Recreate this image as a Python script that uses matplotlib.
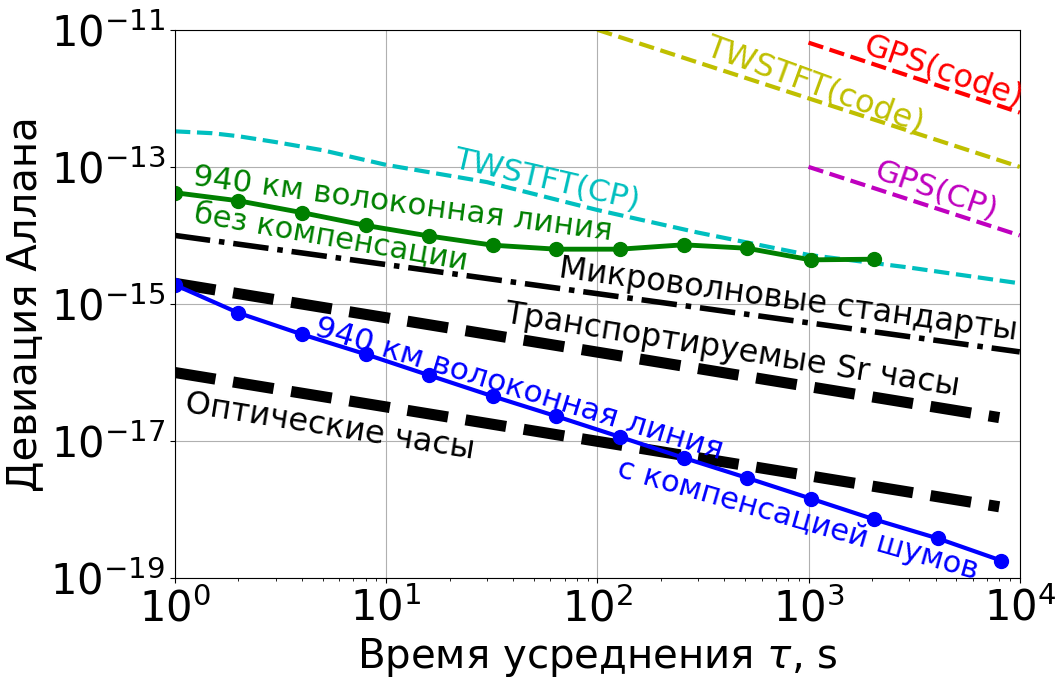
import numpy as np
import matplotlib
matplotlib.use('Agg')
import matplotlib.pyplot as plt
from matplotlib.ticker import NullLocator

# данные (оценка по картинке)
tau_comp = [1, 2, 4, 8, 16, 32, 64, 128, 256, 512, 1024, 2048, 4096, 8192]
adev_comp = [1.9e-15, 7.4e-16, 3.6e-16, 1.85e-16, 9.1e-17, 4.5e-17, 2.3e-17,
             1.15e-17, 5.7e-18, 2.9e-18, 1.45e-18, 7.2e-19, 3.8e-19, 1.8e-19]

tau_free = [1, 2, 4, 8, 16, 32, 64, 128, 256, 512, 1024, 2048]
adev_free = [4.2e-14, 3.2e-14, 2.15e-14, 1.4e-14, 9.8e-15, 7.2e-15,
             6.3e-15, 6.3e-15, 7.3e-15, 6.5e-15, 4.4e-15, 4.5e-15]

tau_twcp = [1, 1.5, 2, 3, 5, 10, 30, 100, 300, 1000, 3000, 10000]
adev_twcp = [3.3e-13, 3.1e-13, 2.8e-13, 2.3e-13, 1.75e-13, 1.07e-13, 6e-14,
             2.35e-14, 1.1e-14, 5.2e-15, 3.4e-15, 2.0e-15]

tau_twcode = [100, 10000]
adev_twcode = [1e-11, 1e-13]
tau_gpscode = [1000, 10000]
adev_gpscode = [6.5e-12, 6.2e-13]
tau_gpscp = [1000, 10000]
adev_gpscp = [1e-13, 1e-14]

tau_mw = [1, 10000]
adev_mw = [1e-14, 2e-16]
tau_sr = [1, 8000]
adev_sr = [2e-15, 2.2e-17]
tau_opt = [1, 8000]
adev_opt = [1e-16, 1.1e-18]

fig = plt.figure(figsize=(10.6, 6.77), dpi=100)
ax = fig.add_axes([0.165, 0.146, 0.797, 0.81])

ax.plot(tau_twcp, adev_twcp, 'c--', lw=3)
ax.plot(tau_twcode, adev_twcode, 'y--', lw=3)
ax.plot(tau_gpscode, adev_gpscode, 'r--', lw=3)
ax.plot(tau_gpscp, adev_gpscp, 'm--', lw=3)
ax.plot(tau_mw, adev_mw, 'k-.', lw=4)
ax.plot(tau_sr, adev_sr, 'k--', lw=8)
ax.plot(tau_opt, adev_opt, 'k--', lw=8)
ax.plot(tau_free, adev_free, 'g-o', lw=3.5, ms=10)
ax.plot(tau_comp, adev_comp, 'b-o', lw=3, ms=10)

ax.set_xscale('log')
ax.set_yscale('log')
ax.set_xlim(1, 1e4)
ax.set_ylim(1e-19, 1e-11)
ax.set_yticks([1e-19, 1e-17, 1e-15, 1e-13, 1e-11])
ax.yaxis.set_minor_locator(NullLocator())
ax.grid(True, which='major', color='#b0b0b0', lw=0.8)
ax.tick_params(labelsize=30)

ax.set_xlabel(r'Время усреднения $\tau$, s', fontsize=29)
ax.set_ylabel('Девиация Аллана', fontsize=29)

kw = dict(ha='left', va='baseline', rotation_mode='anchor')
ax.text(1.2, 5.46e-14, '940 км волоконная линия', color='g', rotation=-7.5, fontsize=22.3, **kw)
ax.text(1.22, 1.58e-14, 'без компенсации', color='g', rotation=-10, fontsize=22, **kw)
ax.text(20.5, 1.0e-13, 'TWSTFT(CP)', color='c', rotation=-13, fontsize=22.5, **kw)
ax.text(320, 4.5e-12, 'TWSTFT(code)', color='y', rotation=-20, fontsize=23, **kw)
ax.text(1787, 4.6e-12, 'GPS(code)', color='r', rotation=-19, fontsize=23, **kw)
ax.text(2014, 6.9e-14, 'GPS(CP)', color='m', rotation=-19, fontsize=22.5, **kw)
ax.text(65, 2.5e-15, 'Микроволновые стандарты', color='k', rotation=-7.8, fontsize=23, **kw)
ax.text(36, 5.46e-16, 'Транспортируемые Sr часы', color='k', rotation=-9.2, fontsize=23, **kw)
ax.text(1.1, 2.68e-17, 'Оптические часы', color='k', rotation=-9.2, fontsize=23, **kw)
ax.text(4.5, 3.52e-16, '940 км волоконная линия', color='b', rotation=-17, fontsize=22.5, **kw)
ax.text(122, 3.08e-18, 'с компенсацией шумов', color='b', rotation=-16, fontsize=22, **kw)

plt.savefig('out.png', dpi=100)
